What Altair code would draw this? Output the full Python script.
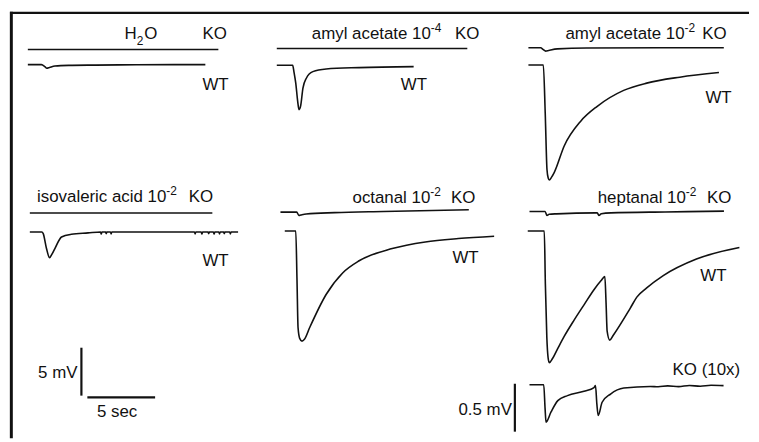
import altair as alt
import pandas as pd

# ---------------- trace data: time (s) from trace start, voltage (mV) from baseline ----------------
h2o_ko_t = [0, 14.06]
h2o_ko_v = [0, 0]
h2o_wt_t = [0, 1.0, 1.25, 1.4, 1.6, 2.0, 3.0, 5.0, 8.0, 13.1]
h2o_wt_v = [0, 0, -0.2, -0.38, -0.3, -0.15, -0.08, -0.05, -0.02, 0]

aa4_ko_t = [0, 14.06]
aa4_ko_v = [0, 0]
aa4_wt_t = [0, 1.17, 1.28, 1.4, 1.54, 1.64, 1.76, 1.93, 2.18, 2.66, 3.64, 6.08, 10.1]
aa4_wt_v = [0, 0, -0.8, -1.86, -3.73, -4.63, -4.24, -2.38, -1.35, -0.66, -0.38, -0.24, -0.14]

aa2_ko_t = [0, 0.9, 1.1, 1.27, 1.5, 2.14, 4.3, 14.42]
aa2_ko_v = [0, 0, -0.2, -0.35, -0.28, -0.12, -0.03, 0]
aa2_wt_t = [0, 1.1, 1.24, 1.37, 1.46, 1.54, 1.71, 1.91, 2.64, 3.86, 5.08, 7.03, 8.73, 11.17, 14.06]
aa2_wt_v = [0, 0, -5.0, -10.9, -11.8, -12.0, -11.7, -11.2, -8.45, -5.86, -4.31, -2.65, -1.89, -1.27, -0.79]

iso_ko_t = [0, 13.47]
iso_ko_v = [0, 0]
iso_wt_t = [0, 0.88, 0.99, 1.23, 1.46, 1.6, 1.85, 2.34, 3.07, 4.3, 15.37]
iso_wt_v = [0, 0, -0.18, -1.73, -2.69, -2.4, -1.73, -0.52, -0.24, -0.1, 0]
iso_spike_t = [5.27, 5.64, 6.0, 12.2, 12.7, 13.2, 13.6, 14.0, 14.35, 14.8]
iso_spike_v = [-0.22, -0.18, -0.2, -0.2, -0.22, -0.18, -0.22, -0.2, -0.18, -0.2]

oct_ko_t = [0, 1.2, 1.36, 1.5, 1.9, 4.0, 7.6, 13.9]
oct_ko_v = [0, 0, -0.34, -0.3, -0.2, -0.05, 0.07, 0.24]
oct_wt_t = [0, 0.81, 0.9, 0.98, 1.1, 1.27, 1.45, 1.83, 3.05, 4.27, 5.49, 7.93, 10.37, 12.81, 15.45]
oct_wt_v = [0, 0, -5.0, -10.1, -11.2, -11.49, -11.3, -10.1, -6.63, -4.38, -3.11, -1.83, -1.14, -0.79, -0.55]

hep_ko_t = [0, 1.15, 1.29, 1.45, 2.0, 4.9, 5.0, 5.12, 5.3, 6.0, 10.0, 14.35]
hep_ko_v = [0, 0, -0.41, -0.3, -0.25, -0.15, -0.15, -0.41, -0.25, -0.15, -0.05, 0.03]
hep_wt_t = [0, 1.22, 1.3, 1.41, 1.5, 1.59, 1.83, 2.2, 2.69, 3.42, 4.2, 4.9, 5.4, 5.69,
            5.78, 5.86, 6.05, 6.3, 7.57, 8.05, 8.78, 10.0, 12.45, 15.62]
hep_wt_v = [0, 0, -5.5, -11.15, -13.2, -13.74, -13.3, -12.3, -11.0, -9.3, -7.6, -6.1, -5.2, -4.76,
            -7.5, -10.46, -11.39, -10.9, -8.04, -6.9, -5.94, -4.66, -2.93, -1.73]

# KO heptanal shown at 10x gain (values in real mV)
hep_ko10_t = [0, 1.05, 1.15, 1.22, 1.58, 2.09, 2.8, 4.02, 4.76, 4.87, 4.97, 5.07, 5.36, 5.98,
              6.96, 8.91, 9.5, 10.2, 11.0, 11.8, 12.6, 13.4, 14.32]
hep_ko10_v = [0, 0, -0.25, -0.39, -0.287, -0.166, -0.114, -0.069, -0.03, -0.01, -0.2, -0.321,
              -0.183, -0.097, -0.034, -0.018, -0.022, -0.012, -0.02, -0.008, -0.016, -0.006, -0.01]

# scale bars
bar_mV = 5
bar_s = 5
bar_ko10_mV = 0.5

# ---------------- layout (figure units: seconds across, mV up) ----------------
X_MAX, Y_MIN = 54.54, -44.51
W, H = 745, 430

origins = {
    "h2o_ko": (1.318, -3.934, 1), "h2o_wt": (1.318, -5.518, 1),
    "aa4_ko": (19.69, -3.830, 1), "aa4_wt": (19.69, -5.590, 1),
    "aa2_ko": (38.26, -3.758, 1), "aa2_wt": (38.26, -5.559, 1),
    "iso_ko": (1.464, -21.01, 1), "iso_wt": (1.464, -22.98, 1),
    "oct_ko": (19.96, -20.91, 1), "oct_wt": (20.28, -22.88, 1),
    "hep_ko": (38.34, -20.84, 1), "hep_wt": (38.21, -22.88, 1),
    "hep_ko10": (38.34, -38.92, 10),
}

# insert isovaleric noise spikes into WT trace
iso_pts = list(zip(iso_wt_t, iso_wt_v))
for st, sv in zip(iso_spike_t, iso_spike_v):
    iso_pts += [(st - 0.05, 0), (st, sv), (st + 0.05, 0)]
iso_pts.sort()

traces = {
    "h2o_ko": list(zip(h2o_ko_t, h2o_ko_v)), "h2o_wt": list(zip(h2o_wt_t, h2o_wt_v)),
    "aa4_ko": list(zip(aa4_ko_t, aa4_ko_v)), "aa4_wt": list(zip(aa4_wt_t, aa4_wt_v)),
    "aa2_ko": list(zip(aa2_ko_t, aa2_ko_v)), "aa2_wt": list(zip(aa2_wt_t, aa2_wt_v)),
    "iso_ko": list(zip(iso_ko_t, iso_ko_v)), "iso_wt": iso_pts,
    "oct_ko": list(zip(oct_ko_t, oct_ko_v)), "oct_wt": list(zip(oct_wt_t, oct_wt_v)),
    "hep_ko": list(zip(hep_ko_t, hep_ko_v)), "hep_wt": list(zip(hep_wt_t, hep_wt_v)),
    "hep_ko10": list(zip(hep_ko10_t, hep_ko10_v)),
}

rows = []
for name, pts in traces.items():
    x0, y0, g = origins[name]
    for i, (t, v) in enumerate(pts):
        rows.append({"trace": name, "i": i, "x": x0 + t, "y": y0 + g * v})
df = pd.DataFrame(rows)

xs = alt.Scale(domain=[0, X_MAX], nice=False, zero=False)
ys = alt.Scale(domain=[Y_MIN, 0], nice=False, zero=False)

lines = alt.Chart(df).mark_line(color="#111", strokeWidth=1.6, strokeJoin="round",
                                interpolate="monotone").encode(
    x=alt.X("x:Q", scale=xs, axis=None),
    y=alt.Y("y:Q", scale=ys, axis=None),
    detail="trace:N",
    order="i:Q",
)

# scale bars + frame
bars = pd.DataFrame([
    {"x": 5.271, "x2": 5.271, "y": -35.06, "y2": -35.06 - bar_mV, "w": 2.2},
    {"x": 5.71, "x2": 5.71 + bar_s, "y": -40.24, "y2": -40.24, "w": 2.2},
    {"x": 37.26, "x2": 37.26, "y": -38.82, "y2": -38.82 - bar_ko10_mV * 10, "w": 2.2},
    {"x": 0.0, "x2": X_MAX, "y": -0.12, "y2": -0.12, "w": 2.5},
    {"x": 0.1, "x2": 0.1, "y": 0, "y2": Y_MIN, "w": 3},
])
rules = alt.Chart(bars).mark_rule(color="#111").encode(
    x=alt.X("x:Q", scale=xs, axis=None), x2="x2:Q",
    y=alt.Y("y:Q", scale=ys, axis=None), y2="y2:Q",
    strokeWidth=alt.StrokeWidth("w:Q", scale=None),
)

# labels
FONT = "Liberation Sans"
big_left = pd.DataFrame([
    ("O", 9.905, -2.795), ("KO", 14.20, -2.795), ("WT", 14.20, -8.209),
    ("KO", 32.85, -2.867), ("WT", 28.84, -8.209),
    ("KO", 51.08, -2.867), ("WT", 51.32, -9.524),
    ("KO", 13.20, -19.88), ("WT", 14.20, -26.50),
    ("KO", 32.55, -19.95), ("WT", 32.65, -26.19),
    ("KO", 51.44, -19.95), ("WT", 50.95, -28.05),
    ("KO (10x)", 48.90, -37.92),
], columns=["text", "x", "y"])
big_right = pd.DataFrame([
    ("H", 9.348, -2.795),
    ("amyl acetate 10", 31.06, -2.867),
    ("amyl acetate 10", 49.78, -2.867),
    ("isovaleric acid 10", 11.54, -19.88),
    ("octanal 10", 31.02, -19.95),
    ("heptanal 10", 49.88, -19.95),
    ("5 mV", 4.978, -38.17),
    ("0.5 mV", 37.04, -42.13),
], columns=["text", "x", "y"])
big_center = pd.DataFrame([("5 sec", 7.906, -42.24)], columns=["text", "x", "y"])
small_left = pd.DataFrame([
    ("2", 9.348, -3.45),
    ("-4", 31.06, -2.122),
    ("-2", 49.78, -2.122),
    ("-2", 11.54, -19.15),
    ("-2", 31.02, -19.22),
    ("-2", 49.88, -19.22),
], columns=["text", "x", "y"])


def txt(d, size, align):
    return alt.Chart(d).mark_text(font=FONT, fontSize=size, align=align, baseline="alphabetic",
                                  color="#111").encode(
        x=alt.X("x:Q", scale=xs, axis=None), y=alt.Y("y:Q", scale=ys, axis=None), text="text:N")


chart = alt.layer(
    rules, lines,
    txt(big_left, 17, "left"), txt(big_right, 17, "right"),
    txt(big_center, 17, "center"), txt(small_left, 12, "left"),
).properties(
    width=W, height=H, padding=0,
).configure_view(stroke=None)

chart.save("out.html", embed_options={"renderer": "svg", "actions": False})
